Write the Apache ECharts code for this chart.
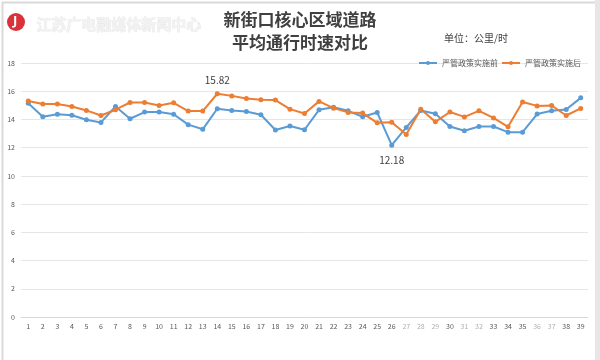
<!DOCTYPE html>
<html><head><meta charset="utf-8">
<script src="https://cdn.jsdelivr.net/npm/echarts@6/dist/echarts.min.js"></script>
<style>html,body{margin:0;padding:0;background:#fff}#c{width:600px;height:360px}</style>
</head><body><div id="c"></div>
<script>
const categories = ['1','2','3','4','5','6','7','8','9','10','11','12','13','14','15','16','17','18','19','20','21','22','23','24','25','26','27','28','29','30','31','32','33','34','35','36','37','38','39'];
const beforeValues = [15.15,14.19,14.37,14.30,13.98,13.79,14.92,14.05,14.52,14.52,14.37,13.63,13.30,14.76,14.64,14.57,14.33,13.25,13.53,13.27,14.68,14.87,14.61,14.19,14.49,12.18,13.43,14.64,14.40,13.50,13.20,13.50,13.50,13.10,13.10,14.38,14.61,14.71,15.53];
const afterValues = [15.30,15.10,15.10,14.92,14.64,14.28,14.69,15.20,15.20,14.99,15.18,14.59,14.59,15.82,15.67,15.48,15.39,15.37,14.73,14.42,15.28,14.80,14.50,14.45,13.76,13.80,12.94,14.73,13.83,14.53,14.18,14.61,14.11,13.48,15.24,14.96,14.99,14.28,14.78];
const seriesNames = ['严管政策实施前','严管政策实施后'];
const yTicks = {min:0,max:18,interval:2};
const titleLines = ['新街口核心区域道路','平均通行时速对比'];
const unitText = '单位：公里/时';
const watermark = '江苏广电融媒体新闻中心';
const labelIdx = {after:13, before:25};
const faintLabels = ['27','28','29','31','32','36','37'];

const chart = echarts.init(document.getElementById('c'));
chart.setOption({
  animation:false,
  backgroundColor:'#fff',
  textStyle:{fontFamily:'Noto Sans CJK SC'},
  title:{text:titleLines.join('\n'),left:'center',top:3,textStyle:{fontSize:17,fontWeight:'bold',color:'#404040',lineHeight:23,fontFamily:'Noto Sans CJK SC'}},
  graphic:[
    {type:'rect',left:0,top:0,shape:{width:599,height:359},style:{fill:'none',stroke:'#d9d9d9',lineWidth:2},silent:true},
    {type:'rect',left:595,top:0,shape:{width:5,height:360},style:{fill:'#e6e6e6'},silent:true},
    {type:'circle',left:7,top:13,shape:{r:9},style:{fill:'#d9323a'}},
    {type:'text',left:13,top:15,style:{text:'J',fill:'#fff',font:'bold 13px Noto Sans'}},
    {type:'text',left:36,top:17,style:{text:watermark,fill:'#f2f2f2',stroke:'#e0e0e0',lineWidth:0.5,font:'bold 15px Noto Sans CJK SC'}},
    {type:'text',left:444,top:33,style:{text:unitText,fill:'#404040',font:'10px Noto Sans CJK SC'}}
  ],
  legend:{right:14,top:54,itemWidth:18,itemHeight:5,itemGap:3,textStyle:{fontSize:8,color:'#595959'},data:seriesNames},
  grid:{left:21,right:12,top:63,bottom:43},
  xAxis:{type:'category',data:categories,boundaryGap:true,
    axisLine:{lineStyle:{color:'#d9d9d9'}},axisTick:{show:false},
    axisLabel:{fontSize:7,color:'#595959',margin:6,interval:0,
      formatter:v=>faintLabels.includes(v)?'{f|'+v+'}':v,rich:{f:{fontSize:7,color:'#b0b0b0'}}}},
  yAxis:{type:'value',min:yTicks.min,max:yTicks.max,interval:yTicks.interval,
    axisLine:{show:false},axisTick:{show:false},
    axisLabel:{fontSize:7,color:'#595959',margin:6},
    splitLine:{lineStyle:{color:'#e6e6e6'}}},
  series:[
    {name:seriesNames[0],type:'line',data:beforeValues.map((v,i)=>i===labelIdx.before?{value:v,label:{show:true,position:'bottom',distance:8}}:v),
      symbol:'circle',symbolSize:5,lineStyle:{width:2,color:'#5b9bd5'},itemStyle:{color:'#5b9bd5'},
      label:{show:false,fontSize:10,color:'#404040'}},
    {name:seriesNames[1],type:'line',data:afterValues.map((v,i)=>i===labelIdx.after?{value:v,label:{show:true,position:'top',distance:6}}:v),
      symbol:'circle',symbolSize:5,lineStyle:{width:2,color:'#ed7d31'},itemStyle:{color:'#ed7d31'},
      label:{show:false,fontSize:10,color:'#404040'}}
  ]
});
</script></body></html>
